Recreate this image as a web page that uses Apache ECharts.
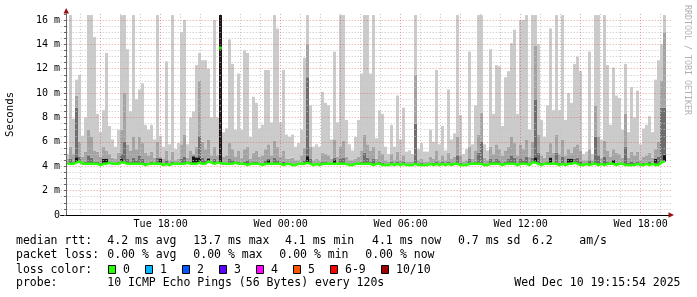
<!DOCTYPE html>
<html><head><meta charset="utf-8">
<script src="https://cdn.jsdelivr.net/npm/echarts@6/dist/echarts.min.js"></script>
<style>html,body{margin:0;padding:0;background:#fff}#c{width:697px;height:297px}</style>
</head><body><div id="c"></div>
<script>
// 200 columns of 9 minutes each, from Tue 13:15:54 to Wed 19:15:54
const columnCount = 200;

// smoke: highest ping (light gray), ms
const lightTop = [
5.0,16.4,7.9,11.1,11.5,6.5,8.0,16.4,16.4,14.6,
8.3,6.8,8.6,13.3,7.3,6.2,5.6,7.0,16.4,16.4,
13.6,8.5,16.4,9.5,10.3,10.8,7.4,7.0,7.4,6.2,
16.4,6.5,5.6,12.6,5.8,16.4,5.4,5.9,15.0,16.0,
5.8,8.0,8.5,12.3,13.3,12.7,12.7,12.0,8.0,16.0,
8.0,16.4,6.8,7.1,14.4,12.4,7.0,11.6,7.0,13.5,
13.3,6.4,9.7,9.2,7.1,7.4,11.9,11.9,7.6,16.4,
15.3,7.6,11.9,6.6,6.4,6.6,5.6,5.9,7.0,12.9,
16.4,9.0,5.6,5.8,5.6,10.1,9.2,9.0,6.2,13.4,
7.6,16.4,16.4,7.8,5.8,5.3,6.4,7.8,11.6,16.4,
16.4,11.6,16.4,6.3,8.6,8.3,5.6,5.0,7.4,5.6,
9.8,6.2,8.8,5.2,5.3,5.0,16.4,5.4,5.9,5.2,
5.2,7.0,6.0,11.9,5.8,7.3,5.3,10.3,6.2,6.7,
16.4,8.2,5.0,5.4,13.4,5.8,9.0,16.4,16.4,5.8,
5.3,13.6,8.3,12.3,12.2,7.3,11.3,11.8,14.1,15.2,
8.3,16.0,16.0,16.4,7.0,16.4,16.4,14.0,7.8,6.4,
9.0,15.3,8.6,16.4,8.6,16.4,7.8,10.0,9.2,12.4,
13.0,11.8,5.0,5.2,13.4,5.0,16.4,16.4,6.2,16.4,
12.3,7.4,12.1,9.8,9.6,7.0,12.4,6.8,10.5,8.0,
10.2,5.8,7.1,7.4,8.1,6.8,11.1,12.7,14.0,16.4
];
// smoke: upper-middle pings (medium gray), ms
const midTop = [
4.6,5.6,5.0,9.8,6.0,4.8,5.2,7.0,6.4,5.3,
5.2,4.8,5.6,5.3,5.0,4.7,4.6,5.1,7.0,10.0,
5.8,5.3,6.4,5.4,6.4,5.9,5.1,4.9,5.2,4.7,
6.0,4.8,4.6,5.3,4.5,5.2,4.5,4.6,5.8,6.6,
4.7,5.3,5.0,5.6,11.0,6.0,5.4,6.2,4.9,5.6,
4.9,16.4,4.8,4.9,5.9,5.4,4.8,5.3,4.7,5.4,
5.6,4.6,5.1,5.3,4.8,4.9,5.4,5.8,4.9,6.1,
5.6,4.8,5.3,4.6,4.6,4.7,4.5,4.5,4.9,5.5,
14.0,5.6,4.5,4.6,4.5,5.1,5.0,4.9,4.6,6.2,
4.8,5.6,6.1,4.8,4.5,4.5,4.6,4.8,5.3,6.6,
5.8,5.3,5.6,4.6,5.3,5.0,4.5,4.4,5.0,4.5,
5.2,4.5,4.9,4.4,4.4,4.4,11.5,4.5,4.6,4.4,
4.4,4.8,4.6,5.3,4.5,4.9,4.5,5.1,4.6,4.8,
6.4,4.9,4.4,4.5,5.6,4.6,5.3,6.6,8.4,4.7,
4.5,5.6,5.0,5.8,5.4,4.9,5.3,5.6,6.4,5.9,
4.9,5.8,5.4,6.2,4.8,6.0,13.9,6.6,4.9,4.7,
5.2,5.9,5.1,6.6,5.0,6.2,4.9,5.4,5.1,5.6,
5.8,5.3,4.5,4.5,5.4,4.5,9.0,6.4,4.7,6.1,
5.3,4.8,5.4,5.1,5.0,4.7,8.3,4.7,5.2,4.9,
5.2,4.5,4.8,4.9,5.1,4.7,5.4,6.0,11.0,15.0
];
// smoke: pings next to the median (dark gray), ms
const darkTop = [
4.3,4.6,4.4,8.8,4.8,4.3,4.4,4.9,4.7,4.4,
4.4,4.3,4.6,4.4,4.4,4.3,4.3,4.4,5.0,6.0,
4.6,4.4,4.7,4.5,4.9,4.6,4.3,4.3,4.4,4.3,
4.7,4.3,4.2,4.5,4.2,4.4,4.2,4.3,4.6,4.8,
4.4,4.4,4.4,4.6,6.5,4.7,4.5,4.7,4.4,4.6,
4.4,16.4,4.3,4.3,4.6,4.5,4.4,4.4,4.3,4.4,
4.5,4.2,4.4,4.4,4.3,4.2,4.5,4.6,4.3,4.7,
4.5,4.3,4.4,4.2,4.3,4.2,4.2,4.3,4.3,4.5,
11.3,4.6,4.2,4.3,4.2,4.4,4.4,4.3,4.3,4.7,
4.3,4.6,4.7,4.3,4.2,4.2,4.3,4.3,4.4,5.1,
4.7,4.4,4.6,4.2,4.4,4.3,4.2,4.2,4.4,4.2,
4.4,4.2,4.4,4.2,4.2,4.2,7.5,4.2,4.3,4.2,
4.2,4.3,4.3,4.4,4.2,4.4,4.2,4.4,4.2,4.3,
4.9,4.3,4.2,4.2,4.6,4.3,4.4,5.1,6.0,4.2,
4.2,4.6,4.4,4.6,4.5,4.2,4.4,4.6,4.9,4.7,
4.2,4.6,4.5,4.8,4.2,4.7,9.5,5.1,4.3,4.3,
4.4,4.7,4.3,5.1,4.3,4.8,4.2,4.5,4.3,4.6,
4.7,4.4,4.2,4.2,4.5,4.2,6.4,4.9,4.3,4.8,
4.4,4.3,4.5,4.3,4.3,4.2,5.6,4.3,4.4,4.3,
4.4,4.2,4.3,4.3,4.4,4.3,4.6,4.8,8.8,8.8
];
// median rtt, ms
const median = [
4.2,4.2,4.2,4.3,4.4,4.2,4.2,4.2,4.2,4.2,
4.2,4.1,4.2,4.2,4.3,4.2,4.2,4.2,4.3,4.3,
4.2,4.2,4.2,4.2,4.2,4.2,4.1,4.2,4.2,4.2,
4.2,4.2,4.1,4.2,4.1,4.2,4.2,4.2,4.2,4.2,
4.3,4.2,4.2,4.2,4.3,4.2,4.2,4.4,4.3,4.2,
4.3,13.7,4.2,4.2,4.2,4.2,4.3,4.2,4.2,4.2,
4.1,4.2,4.2,4.2,4.2,4.1,4.2,4.2,4.2,4.2,
4.2,4.2,4.1,4.2,4.2,4.1,4.1,4.2,4.2,4.2,
4.3,4.2,4.1,4.2,4.1,4.2,4.2,4.2,4.2,4.2,
4.2,4.2,4.2,4.2,4.1,4.1,4.2,4.2,4.2,4.2,
4.2,4.2,4.1,4.2,4.2,4.1,4.1,4.1,4.2,4.1,
4.2,4.1,4.2,4.1,4.1,4.1,4.2,4.1,4.1,4.1,
4.1,4.2,4.1,4.2,4.1,4.2,4.1,4.2,4.1,4.2,
4.2,4.1,4.1,4.1,4.2,4.2,4.2,4.2,4.2,4.1,
4.1,4.2,4.2,4.2,4.2,4.1,4.2,4.2,4.2,4.2,
4.1,4.2,4.2,4.2,4.1,4.3,4.3,4.2,4.1,4.2,
4.2,4.2,4.2,4.2,4.1,4.2,4.1,4.2,4.2,4.3,
4.2,4.1,4.1,4.2,4.1,4.2,4.2,4.1,4.2,4.1,
4.2,4.2,4.2,4.1,4.2,4.2,4.1,4.1,4.1,4.1,
4.2,4.1,4.1,4.2,4.1,4.2,4.1,4.1,4.3,4.4
];
// columns where the median jumps far off the baseline (drawn as an isolated mark)
const medianJumpCols = [51];
// near-black smoke columns: [column, from ms, to ms]
const blackSpikes = [
[3,4.3,4.7],[12,4.3,4.6],[13,4.3,4.6],[18,4.3,4.6],[31,4.3,4.6],[42,4.3,4.8],
[43,4.3,4.7],[44,4.3,4.7],[47,4.3,4.6],[51,4.3,16.4],[67,4.2,4.5],[80,4.3,4.8],
[89,4.2,4.5],[156,4.3,4.7],[161,4.3,4.7],[167,4.3,4.6],[168,4.3,4.6],[182,4.2,4.5],
[196,4.3,4.6],[199,4.4,4.9]
];
// time axis (hours since Tue 00:00)
const axisStartHour = 13;
const axisEndHour = 43.5;
const xTickHours = [18,24,30,36,42];
const xTickLabels = ['Tue 18:00','Wed 00:00','Wed 06:00','Wed 12:00','Wed 18:00'];
const statsRtt = ['4.2 ms avg','13.7 ms max','4.1 ms min','4.1 ms now','0.7 ms sd','6.2','am/s'];
const statsLoss = ['0.00 % avg','0.00 % max','0.00 % min','0.00 % now'];
const lossLabels = ['0','1','2','3','4','5','6-9','10/10'];
const lossColors = ['#26ff00','#00b8ff','#0059ff','#5e00ff','#ff00fe','#ff5500','#ff0000','#a00000'];
const probeText = '10 ICMP Echo Pings (56 Bytes) every 120s';
const stampText = 'Wed Dec 10 19:15:54 2025';

const MONO = '"DejaVu Sans Mono", monospace';
const columns = Array.from({ length: columnCount }, (_, i) => String(i));

// cumulative layer tops (never below the previous layer), then stack differences
const effDark = darkTop.map((v, i) => Math.max(v, median[i]));
const effMid = midTop.map((v, i) => Math.max(v, effDark[i]));
const effLight = lightTop.map((v, i) => Math.max(v, effMid[i]));
const diff = (top, below) => top.map((v, i) => +(v - below[i]).toFixed(3));
const blackBase = columns.map(() => '-');
const blackLen = columns.map(() => '-');
blackSpikes.forEach(s => { blackBase[s[0]] = s[1]; blackLen[s[0]] = +(s[2] - s[1]).toFixed(3); });
const medianLine = median.map((v, i) => medianJumpCols.includes(i) ? '-' : v);
const medianMarks = median.map((v, i) => medianJumpCols.includes(i) ? v : '-');

function bar(name, stack, data, color, z) {
  return { name, type: 'bar', stack, data, xAxisIndex: 1, yAxisIndex: 1,
    barCategoryGap: '0%', barGap: '-100%', silent: true, z,
    itemStyle: { color, borderWidth: 0 } };
}

const fmtY = v => {
  const r = Math.round(v / 2) * 2;
  if (Math.abs(v - r) > 1e-6) return '';
  return r === 0 ? '0' : r + ' m';
};
const fmtX = v => {
  const i = xTickHours.findIndex(h => Math.abs(h - v) < 1e-6);
  return i < 0 ? '' : xTickLabels[i];
};

const txt = (x, y, text, extra) => ({
  type: 'text', x, y, silent: true,
  style: Object.assign({ text, font: '11.5px ' + MONO, fill: '#000',
    textVerticalAlign: 'middle', verticalAlign: 'middle' }, extra || {})
});

const graphics = [];
const rowY = [241.3, 255.3, 269.7, 283];
graphics.push(txt(16, rowY[0], 'median rtt:'));
[107.3, 193.3, 285, 372, 458, 532, 579.3].forEach((x, i) => graphics.push(txt(x, rowY[0], statsRtt[i])));
graphics.push(txt(16, rowY[1], 'packet loss:'));
[107.3, 193.3, 279.3, 365.3].forEach((x, i) => graphics.push(txt(x, rowY[1], statsLoss[i])));
graphics.push(txt(16, rowY[2], 'loss color:'));
const boxX = [108.5, 145.5, 182.5, 219.5, 256.5, 293.5, 330.5, 381.5];
boxX.forEach((x, i) => {
  graphics.push({ type: 'rect', silent: true, shape: { x, y: 265.5, width: 7, height: 8 },
    style: { fill: lossColors[i], stroke: '#000', lineWidth: 1 } });
  graphics.push(txt(x + 14.5, rowY[2], lossLabels[i]));
});
graphics.push(txt(16, rowY[3], 'probe:'));
graphics.push(txt(107.3, rowY[3], probeText));
graphics.push(txt(680.5, rowY[3], stampText, { textAlign: 'right', align: 'right' }));
graphics.push({ type: 'text', x: 687.5, y: 60, rotation: -Math.PI / 2, silent: true,
  style: { text: 'RRDTOOL / TOBI OETIKER', font: '8.3px ' + MONO, fill: '#b0b0b0',
    textAlign: 'center', align: 'center', textVerticalAlign: 'middle', verticalAlign: 'middle' } });
graphics.push({ type: 'polygon', silent: true, z: 100, shape: { points: [[63.5, 13.5], [69, 13.5], [66.2, 8]] }, style: { fill: '#9b1010' } });
graphics.push({ type: 'polygon', silent: true, z: 100, shape: { points: [[668.5, 212.2], [668.5, 217.8], [674, 215]] }, style: { fill: '#9b1010' } });

const GRAY = '#c4c4c4', RED = 'rgba(225,70,70,0.55)';

const option = {
  animation: false,
  backgroundColor: '#fff',
  grid: [
    { left: 60.69, right: 26.31, top: 13.875, bottom: 82, containLabel: false, outerBoundsMode: 'none' },
    { left: 66, right: 31, top: 13.875, bottom: 82, containLabel: false, outerBoundsMode: 'none' }
  ],
  xAxis: [
    {
      type: 'value', gridIndex: 0, min: axisStartHour, max: axisEndHour, interval: 1, z: 3,
      axisLine: { show: true, onZero: true, lineStyle: { color: '#000', width: 1 } },
      axisTick: { show: false },
      axisLabel: { formatter: fmtX, margin: 4, color: '#000', fontFamily: MONO, fontSize: 10 },
      splitLine: { show: true, showMinLine: false, showMaxLine: false,
        lineStyle: { type: [1, 2], width: 1, color: [GRAY, RED, GRAY] } }
    },
    { type: 'category', gridIndex: 1, data: columns, show: false, boundaryGap: true }
  ],
  yAxis: [
    {
      type: 'value', gridIndex: 0, min: 0, max: 16.5, interval: 0.5, offset: -5.31, z: 3,
      name: 'Seconds', nameLocation: 'middle', nameGap: 50, nameRotate: 90,
      nameTextStyle: { fontFamily: MONO, fontSize: 10.7, color: '#000' },
      axisLine: { show: true, onZero: false, lineStyle: { color: '#666', width: 1 } },
      axisTick: { show: true, length: 2, lineStyle: { color: '#666' } },
      axisLabel: { formatter: fmtY, margin: 6, color: '#000', fontFamily: MONO, fontSize: 10 },
      splitLine: { show: true, showMaxLine: false,
        lineStyle: { type: [1, 2], width: 1, color: [RED, GRAY, GRAY, GRAY] } }
    },
    { type: 'value', gridIndex: 1, min: 0, max: 16.5, show: false, splitLine: { show: false } }
  ],
  series: [
    bar('base', 'smoke', median, 'rgba(0,0,0,0)', 1),
    bar('dark', 'smoke', diff(effDark, median), '#6e6e6e', 1),
    bar('mid', 'smoke', diff(effMid, effDark), '#a4a4a4', 1),
    bar('light', 'smoke', diff(effLight, effMid), '#cbcbcb', 1),
    bar('blkBase', 'blk', blackBase, 'rgba(0,0,0,0)', 2),
    bar('blk', 'blk', blackLen, '#151515', 2),
    { name: 'median', type: 'line', data: medianLine, xAxisIndex: 1, yAxisIndex: 1, connectNulls: true,
      symbol: 'none', silent: true, z: 5, lineStyle: { color: '#26ff00', width: 2.5 } },
    { name: 'medianJump', type: 'scatter', data: medianMarks, xAxisIndex: 1, yAxisIndex: 1,
      symbol: 'rect', symbolSize: [3, 3], silent: true, z: 5, itemStyle: { color: '#26ff00' } }
  ],
  graphic: { elements: graphics }
};
const chart = echarts.init(document.getElementById('c'), null, { renderer: 'canvas' });
chart.setOption(option);
</script></body></html>
